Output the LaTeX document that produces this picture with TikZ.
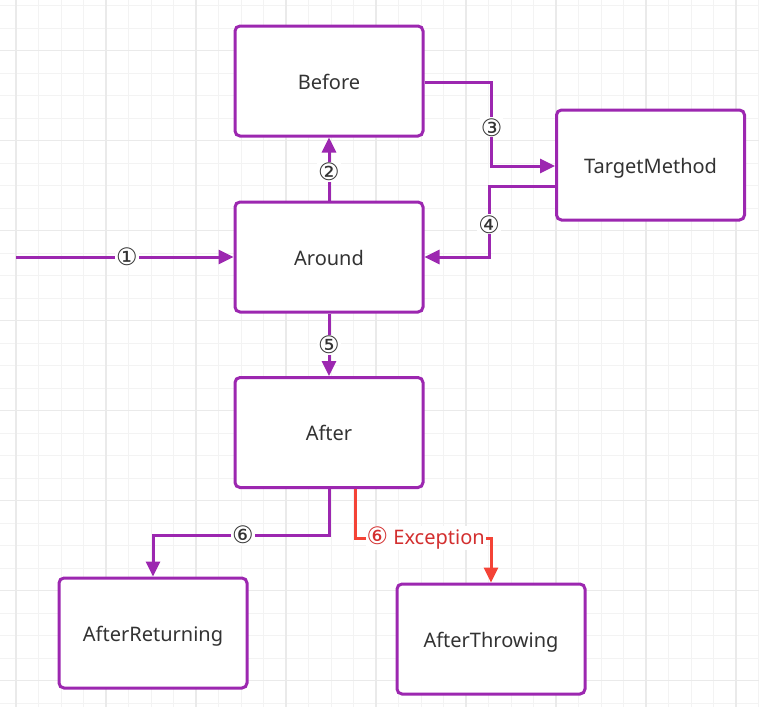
\documentclass[tikz,border=0pt]{standalone}
\usepackage{fontspec}
\setmainfont{Noto Sans}
\newfontfamily\circfont{DejaVu Sans}
\usetikzlibrary{arrows.meta}
\definecolor{purp}{HTML}{9C27B0}
\definecolor{redline}{HTML}{F44336}
\definecolor{redtext}{HTML}{D32F2F}
\definecolor{txt}{HTML}{333333}
\definecolor{gridminor}{HTML}{F3F3F3}
\definecolor{gridmajor}{HTML}{EAEAEA}
\begin{document}
\begin{tikzpicture}[x=1pt,y=-1pt,
  box/.style={draw=purp, line width=3pt, fill=white, rounded corners=5pt,
    minimum width=188pt, minimum height=110pt, inner sep=0pt,
    text height=16pt, text depth=0pt,
    font=\fontsize{20}{24}\selectfont, text=txt},
  conn/.style={draw=purp, line width=3pt, -{Triangle[length=15pt,width=14pt]}},
  rconn/.style={draw=redline, line width=3pt, -{Triangle[length=15pt,width=14pt]}},
  lab/.style={fill=white, inner sep=1pt, text=txt, font=\circfont\fontsize{24}{26}\selectfont},
  rlab/.style={fill=white, inner sep=1pt, text=redtext, font=\fontsize{20}{24}\selectfont}
]
\useasboundingbox (0,0) rectangle (759,707);
\fill[white] (0,0) rectangle (759,707);
% grid
\foreach \k in {0,...,33} {
  \pgfmathsetmacro{\xx}{16+22.5*\k}
  \draw[gridminor, line width=1pt] (\xx,0) -- (\xx,707);
}
\foreach \k in {0,...,31} {
  \pgfmathsetmacro{\yy}{5.7+22.5*\k}
  \draw[gridminor, line width=1pt] (0,\yy) -- (759,\yy);
}
\foreach \k in {0,...,8} {
  \pgfmathsetmacro{\xx}{16+90*\k}
  \draw[gridmajor, line width=1.2pt] (\xx,0) -- (\xx,707);
}
\foreach \k in {0,...,7} {
  \pgfmathsetmacro{\yy}{50.7+90*\k}
  \draw[gridmajor, line width=1.2pt] (0,\yy) -- (759,\yy);
}
% nodes
\node[box] (before) at (329,81) {Before};
\node[box] (tm) at (650.5,165) {TargetMethod};
\node[box] (around) at (329,257) {Around};
\node[box] (after) at (329,432.5) {After};
\node[box] (aret) at (153,633) {AfterReturning};
\node[box] (athr) at (491,639) {AfterThrowing};
\coordinate (start) at (16,257);
% connectors
\draw[conn] (start) -- node[lab, pos=0.51] {①} (around.west);
\draw[conn] (around.north) -- node[lab, pos=0.45] {②} (before.south);
\draw[conn] ([yshift=-1pt]before.east) -- ++(67,0) |- node[lab, pos=0.27] {③} ([yshift=-1pt]tm.west);
\draw[conn] ([yshift=-21pt]tm.west) -- ++(-66,0) |- node[lab, pos=0.27] {④} (around.east);
\draw[conn] (around.south) -- node[lab, pos=0.5] {⑤} (after.north);
\draw[conn] (after.south) -- ++(0,46) -| node[lab, pos=0.245] {⑥} (aret.north);
\draw[rconn] ([xshift=26pt]after.south) -- ++(0,49) -| node[rlab, pos=0.26] {{\circfont\fontsize{24}{26}\selectfont ⑥} Exception} (athr.north);
\end{tikzpicture}
\end{document}
